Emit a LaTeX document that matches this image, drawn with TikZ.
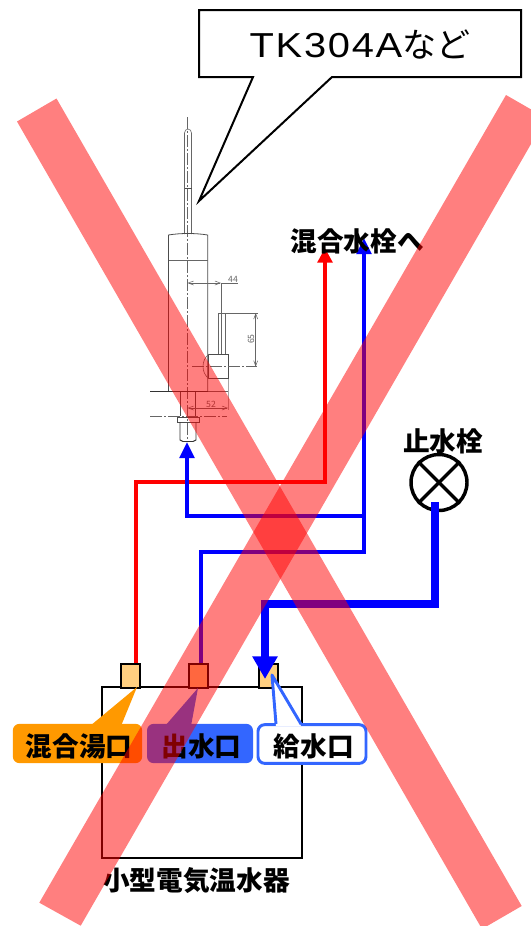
\documentclass[tikz,border=0pt]{standalone}
\usepackage{fontspec}
\setmainfont{Noto Sans CJK JP}
\newfontfamily\latinfont[FakeStretch=1.15,LetterSpace=5]{Liberation Sans}
\usetikzlibrary{arrows.meta}
\definecolor{tagorange}{RGB}{255,153,0}
\definecolor{tagblue}{RGB}{51,102,255}
\definecolor{portfill}{RGB}{255,207,128}
\begin{document}
\begin{tikzpicture}[x=0.75pt,y=-0.75pt]
\tikzstyle{port_style} = [draw=black, line width=1.5pt, fill=portfill, minimum width=14.5pt, minimum height=18pt, inner sep=0pt]
\tikzstyle{tag_style} = [rounded corners=5pt, minimum height=29.5pt, inner sep=0pt, text height=21pt, text depth=2.2pt, font=\fontsize{20}{20}\selectfont\bfseries]
\tikzstyle{label_style} = [inner sep=0pt, font=\fontsize{20}{20}\selectfont\bfseries]
\tikzstyle{edge_red} = [red, line width=3pt, -{Triangle[length=11pt,width=11pt]}]
\tikzstyle{edge_blue} = [blue, line width=2.6pt, -{Triangle[length=12pt,width=11pt]}]
\tikzstyle{edge_thick} = [blue, line width=6pt, -{Triangle[length=17pt,width=18pt]}]
\tikzstyle{thin_style} = [black!60, line width=0.45pt]
\tikzstyle{center_style} = [black!60, line width=0.45pt, dash pattern=on 9pt off 1.5pt on 1.5pt off 1.5pt]
\tikzstyle{dim_style} = [black!60, line width=0.4pt, {Straight Barb[length=4pt,width=3pt]}-{Straight Barb[length=4pt,width=3pt]}]
\tikzstyle{band_style} = [red, opacity=0.5]
    \useasboundingbox (0,0) rectangle (531,926);

    % faucet
    \draw[thin_style] (184.5,234) -- (184.5,133) arc[start angle=180, end angle=0, x radius=3.5, y radius=-4] -- (191.5,234);
    \draw[black!70, line width=0.8pt] (184.5,188.5) -- (191.5,188.5);
    \draw[center_style] (187.5,117) -- (187.5,442);
    \draw[black!70, line width=0.6pt] (168.5,391.5) -- (168.5,235) .. controls (180,233) and (196,233) .. (207.7,235) -- (207.7,391.5);
    \draw[thin_style] (168.5,260) -- (207.7,260);
    \draw[black!80, line width=0.7pt] (150,391.5) -- (207.7,391.5);
    \draw[thin_style] (207.7,391.5) -- (228,391.5);
    \draw[dim_style] (187.5,283) -- (221,283);
    \draw[thin_style] (221,283) -- (238,283);
    \draw[thin_style] (221,283) -- (221,354);
    \node[inner sep=0pt, text=black!60, font=\fontsize{6.5}{6.5}\selectfont] (dim44) at (233,279.5) {44};
    \draw[thin_style] (218.7,354) -- (218.7,313) -- (225,313) -- (225,354);
    \draw[black!70, line width=0.6pt] (208.5,354) rectangle (228,378.7);
    \draw[thin_style] (209,354) .. controls (201,360) and (201,373) .. (209,378.7);
    \draw[center_style] (192,366.7) -- (257,366.7);
    \draw[thin_style] (225,313) -- (258,313);
    \draw[dim_style] (255.7,313) -- (255.7,366.7);
    \node[inner sep=0pt, rotate=90, text=black!60, font=\fontsize{6.5}{6.5}\selectfont] (dim65) at (251,339) {65};
    \draw[black!35, line width=0.7pt] (228,378.7) -- (228,410);
    \draw[black!70, line width=0.7pt] (180,391.5) -- (180,416);
    \draw[black!70, line width=0.7pt] (195.7,391.5) -- (195.7,416);
    \draw[dim_style] (187.5,408) -- (228,408);
    \node[inner sep=0pt, text=black!60, font=\fontsize{6.5}{6.5}\selectfont] (dim52) at (211,404) {52};
    \draw[center_style] (150,416) -- (227,416);
    \draw[black!70, line width=0.6pt] (177,417) rectangle (199,422);
    \draw[black!80, line width=0.7pt] (180,422) -- (180,440) -- (183,441.5) -- (193,441.5) -- (196,440) -- (196,422);

    % heater and ports
    \node[draw=black, line width=1.5pt, minimum width=150pt, minimum height=128pt, inner sep=0pt] (heater) at (202,772.5) {};
    \node[port_style] (port1) at (130.5,675.5) {};
    \node[port_style] (port2) at (198.5,675.5) {};
    \node[port_style] (port3) at (268.5,675.5) {};
    \node[label_style] (heater_name) at (196.5,881) {小型電気温水器};

    % stop valve
    \node[draw=black, circle, line width=2.6pt, minimum size=42pt, inner sep=0pt] (valve) at (439,482.5) {};
    \draw[black, line width=2.4pt] (valve.north west) -- (valve.south east);
    \draw[black, line width=2.4pt] (valve.north east) -- (valve.south west);
    \node[label_style] (valve_name) at (443,441) {止水栓};

    % pipes
    \coordinate (hot_end) at (325,248);
    \coordinate (cold_end) at (364,238);
    \coordinate (faucet_end) at (187,442);
    \coordinate (feed_end) at (265,679);
    \coordinate (branch) at (364,516);
    \draw[edge_red] ([xshift=4.1pt]port1.north) |- (325,482) -- (hot_end);
    \draw[edge_blue] ([xshift=1.9pt]port2.north) |- (364,552) -- (cold_end);
    \draw[edge_blue] (branch) -| (faucet_end);
    \draw[edge_thick] ([xshift=-3pt,yshift=7.5pt]valve.south) |- (265,604) -- (feed_end);
    \node[label_style] (mix_name) at (357,241) {混合水栓へ};

    % tags
    \fill[tagorange] (90,726) -- (137,687) -- (121,726) -- cycle;
    \node[tag_style, fill=tagorange, minimum width=97pt] (tag1) at (77.5,743.5) {\hspace*{2.5pt}混合湯口};
    \fill[tagblue] (165,726) -- (198,688) -- (191,726) -- cycle;
    \node[tag_style, fill=tagblue, minimum width=79.5pt] (tag2) at (200,743.5) {\hspace*{2pt}出水口};
    \node[tag_style, draw=tagblue, fill=white, line width=2.2pt, minimum width=81pt, minimum height=29pt] (tag3) at (312,744) {\hspace*{2.5pt}給水口};
    \fill[white] (276,726) -- (272,675) -- (301,726) -- cycle;
    \draw[tagblue, line width=2.2pt, line join=round] (276,724) -- (272,675) -- (301,724);

    % balloon
    \draw[black, line width=1.5pt, fill=white] (199,10) -- (521,10) -- (521,77) -- (332,77) -- (199,201) -- (253,77) -- (199,77) -- cycle;
    \node[inner sep=0pt, font=\fontsize{26}{26}\selectfont] (balloon_text) at (360,45) {{\latinfont TK304A}\fontsize{25.5}{25.5}\selectfont など};

    % crossing bands
    \begin{scope}
    \clip (0,0) rectangle (531,926);
    \fill[band_style] (17,121.5) -- (56.5,98.5) -- (521.7,906) -- (482,929) -- cycle;
    \fill[band_style] (506,95) -- (546,118) -- (80.7,925.7) -- (39.3,902.7) -- cycle;
    \end{scope}
\end{tikzpicture}
\end{document}
